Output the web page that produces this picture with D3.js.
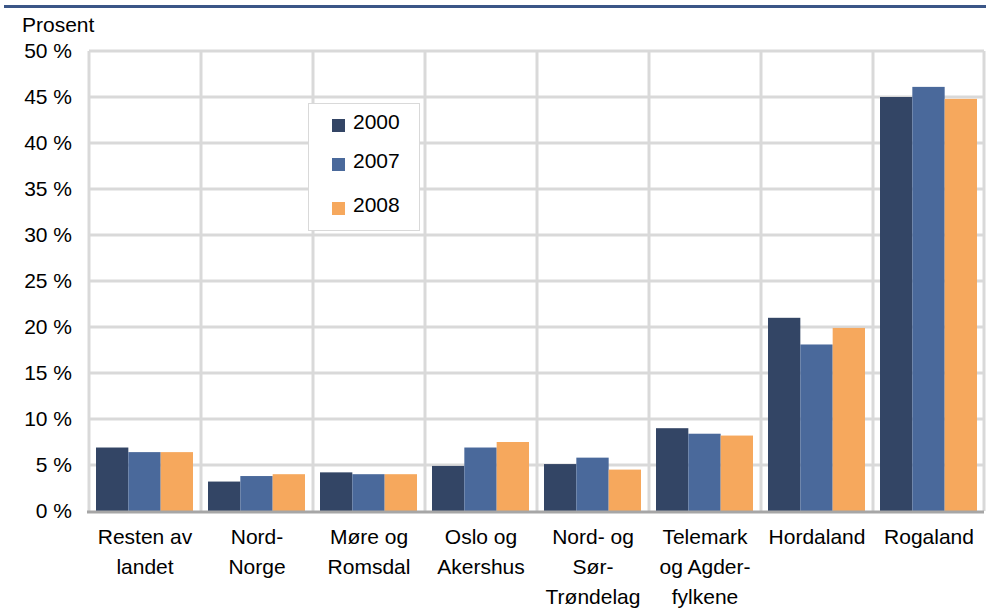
<!DOCTYPE html>
<html>
<head>
<meta charset="utf-8">
<script src="https://cdn.jsdelivr.net/npm/d3@7"></script>
<style>
  body { margin: 0; background: #fff; }
  svg { display: block; font-family: "Liberation Sans", Arial, sans-serif; }
</style>
</head>
<body>
<script>
const w = 986;
const h = 612;

// data
const categories = [
    ["Resten av", "landet"],
    ["Nord-", "Norge"],
    ["Møre og", "Romsdal"],
    ["Oslo og", "Akershus"],
    ["Nord- og", "Sør-", "Trøndelag"],
    ["Telemark", "og Agder-", "fylkene"],
    ["Hordaland"],
    ["Rogaland"]
];
const seriesNames = ["2000", "2007", "2008"];
const values2000 = [6.9, 3.2, 4.2, 4.9, 5.1, 9.0, 21.0, 45.0];
const values2007 = [6.4, 3.8, 4.0, 6.9, 5.8, 8.4, 18.1, 46.1];
const values2008 = [6.4, 4.0, 4.0, 7.5, 4.5, 8.2, 19.9, 44.8];
const yTicks = [0, 5, 10, 15, 20, 25, 30, 35, 40, 45, 50];
const colors = ["#334565", "#4a699b", "#f6a85d"];

const fontSize = 21;
const margin = { top: 51, right: 1, bottom: 101, left: 89 };

const svg = d3.select("body").append("svg")
    .attr("width", w)
    .attr("height", h);

// top rule
svg.append("line")
    .attr("x1", 4).attr("x2", w)
    .attr("y1", 6.5).attr("y2", 6.5)
    .attr("stroke", "#3b5687")
    .attr("stroke-width", 3);

const x0 = d3.scaleBand()
    .domain(d3.range(categories.length))
    .range([margin.left, w - margin.right]);

const x1 = d3.scaleBand()
    .domain(seriesNames)
    .range([7, x0.bandwidth() - 8])
    .padding(0);

const y = d3.scaleLinear()
    .domain([0, 50])
    .range([h - margin.bottom, margin.top]);

// horizontal gridlines
svg.append("g")
    .selectAll("line")
    .data(yTicks.filter(d => d > 0))
    .enter()
    .append("line")
    .attr("x1", margin.left).attr("x2", w - margin.right - 1)
    .attr("y1", d => y(d)).attr("y2", d => y(d))
    .attr("stroke", "#d9d9d9")
    .attr("stroke-width", 3);

// vertical gridlines
svg.append("g")
    .selectAll("line")
    .data(d3.range(categories.length + 1))
    .enter()
    .append("line")
    .attr("x1", d => d < categories.length ? x0(d) : w - margin.right - 1)
    .attr("x2", d => d < categories.length ? x0(d) : w - margin.right - 1)
    .attr("y1", y(50)).attr("y2", y(0))
    .attr("stroke", "#d9d9d9")
    .attr("stroke-width", 3);

// bars
const series = [values2000, values2007, values2008];
seriesNames.forEach((name, si) => {
    svg.append("g")
        .selectAll("rect")
        .data(series[si])
        .enter()
        .append("rect")
        .attr("x", (d, i) => x0(i) + x1(name))
        .attr("y", d => y(d))
        .attr("width", x1.bandwidth())
        .attr("height", d => y(0) - y(d))
        .attr("fill", colors[si]);
});

// baseline
svg.append("line")
    .attr("x1", margin.left - 2).attr("x2", w - margin.right - 1)
    .attr("y1", y(0) + 1).attr("y2", y(0) + 1)
    .attr("stroke", "#a6a6a6")
    .attr("stroke-width", 3);

// y axis labels
const yAxis = d3.axisLeft(y)
    .tickValues(yTicks)
    .tickSize(0)
    .tickPadding(17)
    .tickFormat(d => d + " %");

svg.append("g")
    .attr("transform", `translate(${margin.left}, 0)`)
    .call(yAxis)
    .call(g => g.select(".domain").remove())
    .call(g => g.attr("font-size", fontSize).attr("font-family", null))
    .selectAll("text")
    .attr("fill", "#000");

svg.append("text")
    .attr("x", 22)
    .attr("y", 32)
    .attr("font-size", fontSize)
    .attr("fill", "#000")
    .text("Prosent");

// x labels
const xl = svg.append("g")
    .selectAll("text")
    .data(categories)
    .enter()
    .append("text")
    .attr("x", (d, i) => x0(i) + x0.bandwidth() / 2)
    .attr("y", 544)
    .attr("text-anchor", "middle")
    .attr("font-size", fontSize)
    .attr("fill", "#000");

xl.selectAll("tspan")
    .data(d => d)
    .enter()
    .append("tspan")
    .attr("x", function() { return d3.select(this.parentNode).attr("x"); })
    .attr("dy", (d, i) => i === 0 ? 0 : 30)
    .text(d => d);

// legend
const legend = svg.append("g").attr("transform", "translate(308, 103)");
legend.append("rect")
    .attr("x", 0.5).attr("y", 0.5)
    .attr("width", 111).attr("height", 127)
    .attr("fill", "#fff")
    .attr("stroke", "#d9d9d9")
    .attr("stroke-width", 1);

const rowBase = [26, 65, 109];
seriesNames.forEach((name, i) => {
    legend.append("rect")
        .attr("x", 24).attr("y", rowBase[i] - 10)
        .attr("width", 13).attr("height", 13)
        .attr("fill", colors[i]);
    legend.append("text")
        .attr("x", 45).attr("y", rowBase[i])
        .attr("font-size", fontSize)
        .attr("fill", "#000")
        .text(name);
});
</script>
</body>
</html>
